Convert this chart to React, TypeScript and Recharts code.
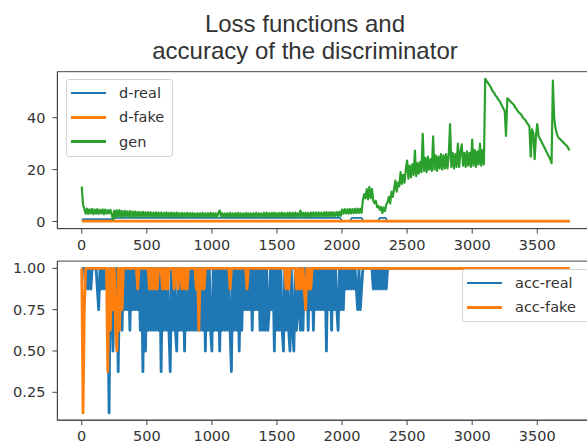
import React from "react"
import { LineChart, Line, XAxis, YAxis, ReferenceArea } from "recharts"

// ---------------------------------------------------------------------------
// Data
// ---------------------------------------------------------------------------

const xTicks = [0, 500, 1000, 1500, 2000, 2500, 3000, 3500]
const lossTicks = [0, 20, 40]
const accTicks = [0.25, 0.5, 0.75, 1.0]

// generator loss, one sample every GEN_EVERY iterations
const GEN_EVERY = 10
const genLoss = [
  13.5, 6.5, 4.8, 3.0, 5.0, 2.9, 4.7, 3.1, 4.9, 2.8,
  4.6, 3.0, 4.8, 2.9, 4.5, 3.1, 4.7, 2.8, 4.6, 3.0,
  4.4, 3.1, 4.5, 2.9, 0.8, 4.2, 1.6, 4.3, 1.8, 4.4,
  1.7, 4.0, 1.8, 4.1, 1.9, 3.9, 1.8, 4.0, 1.7, 3.8,
  1.8, 3.8, 1.9, 3.7, 1.8, 3.6, 1.9, 3.7, 1.8, 3.5,
  1.9, 3.6, 1.8, 3.5, 1.9, 3.4, 1.8, 3.5, 1.9, 3.4,
  1.8, 3.4, 1.9, 3.3, 1.8, 3.5, 1.9, 3.3, 1.8, 3.4,
  1.9, 3.3, 1.8, 3.4, 1.9, 3.2, 1.8, 3.3, 1.9, 3.2,
  1.8, 3.3, 1.9, 3.2, 1.8, 3.3, 1.9, 3.1, 1.8, 3.2,
  1.9, 3.2, 1.8, 3.3, 1.9, 3.1, 1.8, 3.2, 1.9, 3.3,
  1.8, 3.2, 1.9, 3.1, 1.8, 3.3, 4.2, 1.9, 3.2, 1.8,
  3.1, 1.9, 3.2, 1.8, 3.3, 1.9, 3.1, 1.8, 3.2, 1.9,
  3.3, 1.8, 3.2, 1.9, 3.1, 1.8, 3.3, 1.9, 3.2, 1.8,
  3.1, 1.9, 3.2, 1.8, 3.3, 1.9, 3.2, 1.8, 3.1, 1.9,
  3.3, 1.8, 3.4, 1.9, 3.2, 1.8, 3.3, 1.9, 3.4, 1.8,
  3.2, 1.9, 3.3, 1.8, 3.4, 1.9, 3.2, 1.8, 3.3, 1.9,
  3.4, 1.8, 3.3, 1.9, 3.4, 1.8, 3.2, 1.9, 4.2, 1.8,
  3.3, 1.9, 3.4, 1.8, 3.3, 1.9, 3.4, 1.8, 3.5, 1.9,
  3.4, 2.0, 3.5, 1.9, 3.4, 2.0, 3.5, 1.9, 3.6, 2.0,
  3.5, 1.9, 3.6, 2.0, 3.5, 2.1, 3.6, 2.0, 3.7, 2.1,
  4.6, 3.0, 4.8, 3.1, 4.7, 3.0, 4.9, 3.1, 4.8, 3.2,
  4.9, 3.2, 5.0, 3.3, 4.9, 3.3, 8.0, 10.5, 9.0, 12.5,
  8.5, 13.3, 9.0, 12.5, 8.0, 7.0, 8.0, 5.5, 6.0, 4.5,
  5.6, 3.3, 5.4, 4.0, 6.5, 7.5, 9.5, 7.0, 11.5, 9.5,
  12.5, 15.8, 11.5, 15.0, 13.5, 19.0, 14.5, 18.0, 15.0, 20.0,
  23.5, 16.5, 21.5, 17.0, 22.0, 18.0, 27.3, 17.5, 22.5, 18.5,
  23.0, 19.0, 33.8, 19.5, 24.5, 19.0, 25.0, 20.0, 24.0, 19.5,
  32.8, 20.0, 25.5, 19.5, 25.0, 20.5, 26.0, 20.0, 25.5, 20.5,
  26.0, 20.5, 25.5, 37.5, 21.0, 26.5, 20.5, 26.0, 21.0, 30.0,
  21.0, 27.0, 29.7, 21.5, 26.5, 21.0, 27.0, 21.5, 26.5, 21.0,
  31.6, 21.5, 27.5, 21.0, 27.0, 22.0, 30.0, 21.5, 27.5, 22.0,
  55.0, 54.2, 53.5, 52.8, 52.0, 51.0, 50.0, 49.5, 48.5, 48.0,
  47.0, 46.5, 45.5, 44.5, 43.5, 42.5, 33.0, 47.5, 47.0, 46.5,
  46.0, 45.5, 45.0, 44.0, 43.5, 42.5, 42.0, 41.5, 41.0, 40.0,
  39.5, 39.0, 38.0, 37.5, 36.5, 25.0, 35.5, 34.0, 24.0, 33.0,
  37.5, 33.0, 32.0, 31.0, 30.0, 29.0, 28.0, 27.0, 26.0, 25.0,
  24.0, 22.5, 54.3, 40.0, 36.0, 34.0, 32.5, 32.0, 31.5, 31.0,
  30.5, 30.0, 29.5, 29.0, 28.0, 27.5,
]

const dRealSteps = [0, 20, 240, 260, 1985, 2000, 2060, 2075, 2150, 2165, 2275, 2290, 2335, 2350, 3750]
const dRealLoss = [0.7, 0.9, 0.9, 1.4, 1.4, 0.1, 0.1, 1.4, 1.4, 0.1, 0.1, 1.4, 1.4, 0.05, 0.05]

const dFakeSteps = [0, 3750]
const dFakeLoss = [0.15, 0.15]

// discriminator accuracy in eighths (batch of 8), one sample every ACC_EVERY iterations
const ACC_EVERY = 10
const LAST_ITERATION = 3750
const accRealEighths = [
  8, 8, 8, 7, 8, 7, 8, 7, 8, 8,
  8, 8, 7, 6, 8, 7, 8, 7, 8, 7,
  7, 1, 8, 7, 4, 8, 7, 8, 3, 7,
  8, 5, 8, 6, 8, 6, 8, 5, 8, 6,
  8, 6, 8, 6, 8, 5, 8, 3, 8, 4,
  8, 5, 8, 5, 8, 5, 8, 5, 8, 5,
  8, 3, 8, 5, 8, 5, 8, 5, 3, 8,
  5, 8, 5, 4, 8, 5, 8, 5, 8, 4,
  8, 5, 8, 5, 8, 5, 8, 5, 8, 5,
  8, 5, 8, 5, 8, 4, 8, 5, 8, 5,
  4, 8, 5, 8, 5, 8, 4, 8, 5, 8,
  5, 8, 5, 8, 5, 3, 8, 5, 8, 5,
  8, 4, 8, 5, 8, 6, 8, 6, 8, 6,
  8, 5, 8, 6, 8, 6, 8, 5, 8, 5,
  8, 5, 8, 5, 6, 8, 6, 8, 4, 8,
  5, 8, 5, 8, 5, 4, 8, 5, 8, 5,
  4, 8, 5, 4, 8, 5, 6, 8, 5, 8,
  5, 8, 6, 8, 5, 8, 6, 8, 5, 8,
  6, 8, 6, 8, 6, 8, 6, 8, 4, 8,
  6, 8, 5, 8, 6, 8, 6, 5, 8, 6,
  8, 6, 8, 7, 8, 7, 8, 7, 8, 7,
  8, 7, 6, 8, 6, 7, 8, 8, 8, 8,
  8, 8, 8, 8, 7, 8, 7, 8, 7, 8,
  7, 8, 7, 8, 7, 8, 8, 8, 8, 8,
  8,
]
const accFakeEighths = [
  8, 1, 6, 8, 8, 8, 8, 8, 8, 8,
  8, 8, 8, 8, 8, 8, 8, 8, 8, 8,
  3, 8, 5, 8, 6, 8, 5, 4, 8, 5,
  8, 6, 8, 8, 8, 8, 8, 8, 8, 8,
  8, 8, 8, 7, 8, 8, 8, 8, 8, 8,
  8, 8, 7, 8, 7, 8, 7, 8, 7, 8,
  8, 8, 7, 8, 7, 8, 7, 8, 8, 8,
  8, 7, 8, 8, 7, 8, 8, 7, 8, 7,
  8, 7, 8, 8, 8, 8, 8, 8, 7, 8,
  5, 8, 7, 8, 7, 8, 8, 8, 8, 8,
  8, 8, 8, 8, 8, 8, 8, 8, 8, 8,
  8, 8, 8, 8, 7, 8, 8, 8, 8, 8,
  8, 8, 8, 8, 8, 8, 8, 7, 8, 8,
  8, 8, 8, 8, 8, 8, 8, 8, 8, 8,
  8, 8, 8, 8, 8, 8, 8, 8, 8, 8,
  8, 8, 8, 8, 8, 8, 8, 7, 8, 7,
  8, 8, 8, 8, 8, 7, 8, 7, 8, 7,
  8, 7, 6, 8, 7, 8, 7, 8, 8, 8,
  8, 8, 8, 8, 8, 8, 8, 8, 8, 8,
  8, 8, 8, 8, 8, 8, 8, 8, 8, 8,
  8, 8, 8, 8, 8, 8, 8, 8, 8, 8,
  8, 8, 8, 8, 8, 8, 8, 8, 8, 8,
  8, 8, 8, 8, 8, 8, 8, 8, 8, 8,
  8, 8, 8, 8, 8, 8, 8, 8, 8, 8,
  8,
]

// ---------------------------------------------------------------------------
// Tables
// ---------------------------------------------------------------------------

const genData = genLoss.map((value, i) => ({ step: i * GEN_EVERY, value }))
const dRealData = dRealSteps.map((step, i) => ({ step, value: dRealLoss[i] }))
const dFakeData = dFakeSteps.map((step, i) => ({ step, value: dFakeLoss[i] }))

const accData = accRealEighths.map((r, i) => ({
  step: i * ACC_EVERY,
  real: r / 8,
  fake: accFakeEighths[i] / 8,
}))
// values hold until the end of training
accData.push({
  step: LAST_ITERATION,
  real: accRealEighths[accRealEighths.length - 1] / 8,
  fake: accFakeEighths[accFakeEighths.length - 1] / 8,
})

// ---------------------------------------------------------------------------
// Style
// ---------------------------------------------------------------------------

const BLUE = "#1f77b4"
const ORANGE = "#ff7f0e"
const GREEN = "#2ca02c"
const SPINE = "#444"
const FONT = "'DejaVu Sans', sans-serif"
const X_DOMAIN: [number, number] = [-187, 3936]
const LOSS_DOMAIN: [number, number] = [-2.75, 57.75]
const ACC_DOMAIN: [number, number] = [0.08125, 1.04375]

const tick = { fontSize: 14.5, fill: "#333", fontFamily: FONT }

function LegendBox({
  left,
  top,
  width,
  height,
  items,
}: {
  left: number
  top: number
  width: number
  height: number
  items: { label: string; color: string }[]
}) {
  return (
    <div
      style={{
        position: "absolute",
        left,
        top,
        width,
        height,
        border: "1px solid #d4d4d4",
        borderRadius: 3,
        background: "rgba(255,255,255,0.85)",
        boxSizing: "border-box",
      }}
    >
      {items.map((it, i) => (
        <div key={it.label} style={{ position: "absolute", left: 4, top: 3 + i * 24.3, height: 20, display: "flex", alignItems: "center" }}>
          <div style={{ width: 35, height: 2.5, background: it.color }} />
          <span style={{ marginLeft: 13, fontSize: 14.5, color: "#333", fontFamily: FONT }}>{it.label}</span>
        </div>
      ))}
    </div>
  )
}

export default function App() {
  return (
    <div
      style={{
        position: "fixed",
        left: 0,
        top: 0,
        width: 587,
        height: 446,
        overflow: "hidden",
        background: "#fff",
      }}
    >
      <div
        style={{
          position: "absolute",
          left: 105,
          top: 9.5,
          width: 400,
          textAlign: "center",
          fontFamily: "'Liberation Sans', Arial, sans-serif",
          fontSize: 24,
          lineHeight: "27.4px",
          color: "#333",
        }}
      >
        Loss functions and
        <br />
        accuracy of the discriminator
      </div>

      <div style={{ position: "absolute", left: 0, top: 62 }}>
        <LineChart width={610} height={190} margin={{ top: 9.7, right: 16, bottom: 0, left: 0 }}>
          <XAxis
            type="number"
            dataKey="step"
            domain={X_DOMAIN}
            allowDataOverflow
            ticks={xTicks}
            height={23.4}
            tickSize={5}
            tickMargin={6}
            stroke={SPINE}
            tick={tick}
          />
          <YAxis
            type="number"
            domain={LOSS_DOMAIN}
            allowDataOverflow
            ticks={lossTicks}
            width={57.4}
            tickSize={5}
            tickMargin={7}
            stroke={SPINE}
            tick={tick}
          />
          <ReferenceArea x1={X_DOMAIN[0]} x2={X_DOMAIN[1]} y1={LOSS_DOMAIN[0]} y2={LOSS_DOMAIN[1]} fill="none" stroke={SPINE} strokeWidth={1} />
          <Line data={dRealData} dataKey="value" stroke={BLUE} strokeWidth={1.8} dot={false} isAnimationActive={false} strokeLinejoin="round" />
          <Line data={dFakeData} dataKey="value" stroke={ORANGE} strokeWidth={2.8} dot={false} isAnimationActive={false} strokeLinejoin="round" />
          <Line data={genData} dataKey="value" stroke={GREEN} strokeWidth={2.2} dot={false} isAnimationActive={false} strokeLinejoin="round" />
        </LineChart>
      </div>

      <div style={{ position: "absolute", left: 0, top: 250 }}>
        <LineChart width={610} height={196} data={accData} margin={{ top: 11.1, right: 16, bottom: 0, left: 0 }}>
          <XAxis
            type="number"
            dataKey="step"
            domain={X_DOMAIN}
            allowDataOverflow
            ticks={xTicks}
            height={25.8}
            tickSize={5}
            tickMargin={6}
            stroke={SPINE}
            tick={tick}
          />
          <YAxis
            type="number"
            domain={ACC_DOMAIN}
            allowDataOverflow
            ticks={accTicks}
            tickFormatter={(v: number) => v.toFixed(2)}
            width={57.4}
            tickSize={5}
            tickMargin={7}
            stroke={SPINE}
            tick={tick}
          />
          <ReferenceArea x1={X_DOMAIN[0]} x2={X_DOMAIN[1]} y1={ACC_DOMAIN[0]} y2={ACC_DOMAIN[1]} fill="none" stroke={SPINE} strokeWidth={1} />
          <Line dataKey="real" stroke={BLUE} strokeWidth={2.8} dot={false} isAnimationActive={false} strokeLinejoin="round" />
          <Line dataKey="fake" stroke={ORANGE} strokeWidth={2.8} dot={false} isAnimationActive={false} strokeLinejoin="round" />
        </LineChart>
      </div>

      <LegendBox
        left={66}
        top={79}
        width={107}
        height={78}
        items={[
          { label: "d-real", color: BLUE },
          { label: "d-fake", color: ORANGE },
          { label: "gen", color: GREEN },
        ]}
      />
      <LegendBox
        left={462}
        top={269}
        width={130}
        height={53}
        items={[
          { label: "acc-real", color: BLUE },
          { label: "acc-fake", color: ORANGE },
        ]}
      />
    </div>
  )
}
